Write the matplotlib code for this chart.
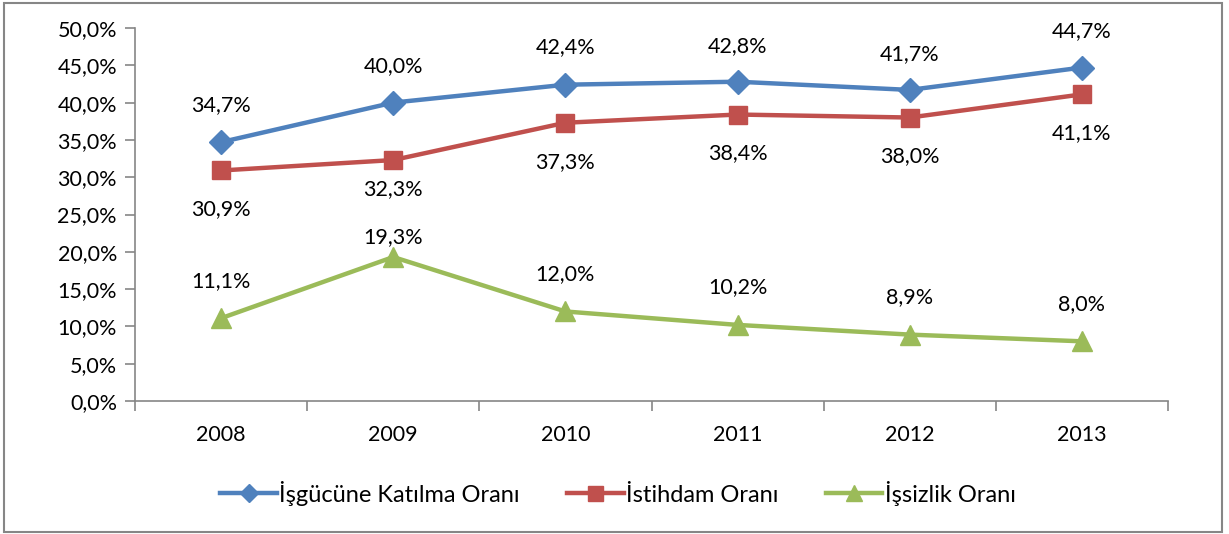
import numpy as np
import matplotlib.pyplot as plt
from matplotlib.ticker import FixedLocator, FuncFormatter

plt.rcParams['font.family'] = ['Lato', 'DejaVu Sans']

# Veriler
years = ["2008", "2009", "2010", "2011", "2012", "2013"]
katilma = [34.7, 40.0, 42.4, 42.8, 41.7, 44.7]
istihdam = [30.9, 32.3, 37.3, 38.4, 38.0, 41.1]
issizlik = [11.1, 19.3, 12.0, 10.2, 8.9, 8.0]
series_names = ["İşgücüne Katılma Oranı", "İstihdam Oranı", "İşsizlik Oranı"]

# etiket kaydirmalari (punto)
off_katilma = [27, 26, 27, 26, 26, 26]
off_istihdam = [-28, -21, -28, -28, -28, -28]
off_issizlik = [27, 14, 27, 27, 27, 27]


def pct(v):
    return f"{v:.1f}%".replace(".", ",")


fig = plt.figure(figsize=(12.29, 5.34), dpi=100)
ax = fig.add_axes([135 / 1229, 1 - 401 / 534, 1033 / 1229, 373 / 534])

x = np.arange(len(years))
ax.plot(x, katilma, color="#4F81BD", lw=3.2, marker="D", ms=12, label=series_names[0])
ax.plot(x, istihdam, color="#C0504D", lw=3.2, marker="s", ms=13.5, label=series_names[1])
ax.plot(x, issizlik, color="#9BBB59", lw=3.2, marker="^", ms=15, label=series_names[2])

fs = 15.5
for vals, offs in [(katilma, off_katilma), (istihdam, off_istihdam), (issizlik, off_issizlik)]:
    for xi, v, o in zip(x, vals, offs):
        ax.annotate(pct(v), (xi, v), xytext=(0, o), textcoords="offset points",
                    ha="center", va="center", fontsize=fs)

ax.set_xlim(-0.5, len(years) - 0.5)
ax.set_ylim(0, 50)
ax.yaxis.set_major_locator(FixedLocator(np.arange(0, 50.1, 5)))
ax.yaxis.set_major_formatter(FuncFormatter(lambda v, p: pct(v)))

ax.set_xticks(np.arange(-0.5, len(years), 1))
ax.set_xticklabels([])
ax.set_xticks(x, minor=True)
ax.set_xticklabels(years, minor=True)
ax.tick_params(axis="x", which="minor", length=0, labelsize=fs, pad=17)
ax.tick_params(axis="x", which="major", length=7, color="#868686", width=1.2)
ax.tick_params(axis="y", length=7, color="#868686", width=1.2, labelsize=fs, pad=6)

for s in ["top", "right"]:
    ax.spines[s].set_visible(False)
for s in ["left", "bottom"]:
    ax.spines[s].set_color("#868686")
    ax.spines[s].set_linewidth(1.2)

fig.legend(loc="center", bbox_to_anchor=(618 / 1229, 1 - 493 / 534), ncol=3, frameon=False,
           fontsize=17, handlelength=2.4, handletextpad=0.1, columnspacing=2.0,
           markerscale=0.8)

border = plt.Rectangle((4 / 1229, 2 / 534), 1218 / 1229, 529 / 534, transform=fig.transFigure,
                       fill=False, edgecolor="#868686", lw=1.5)
fig.patches.append(border)

fig.savefig("out.png", dpi=100)
